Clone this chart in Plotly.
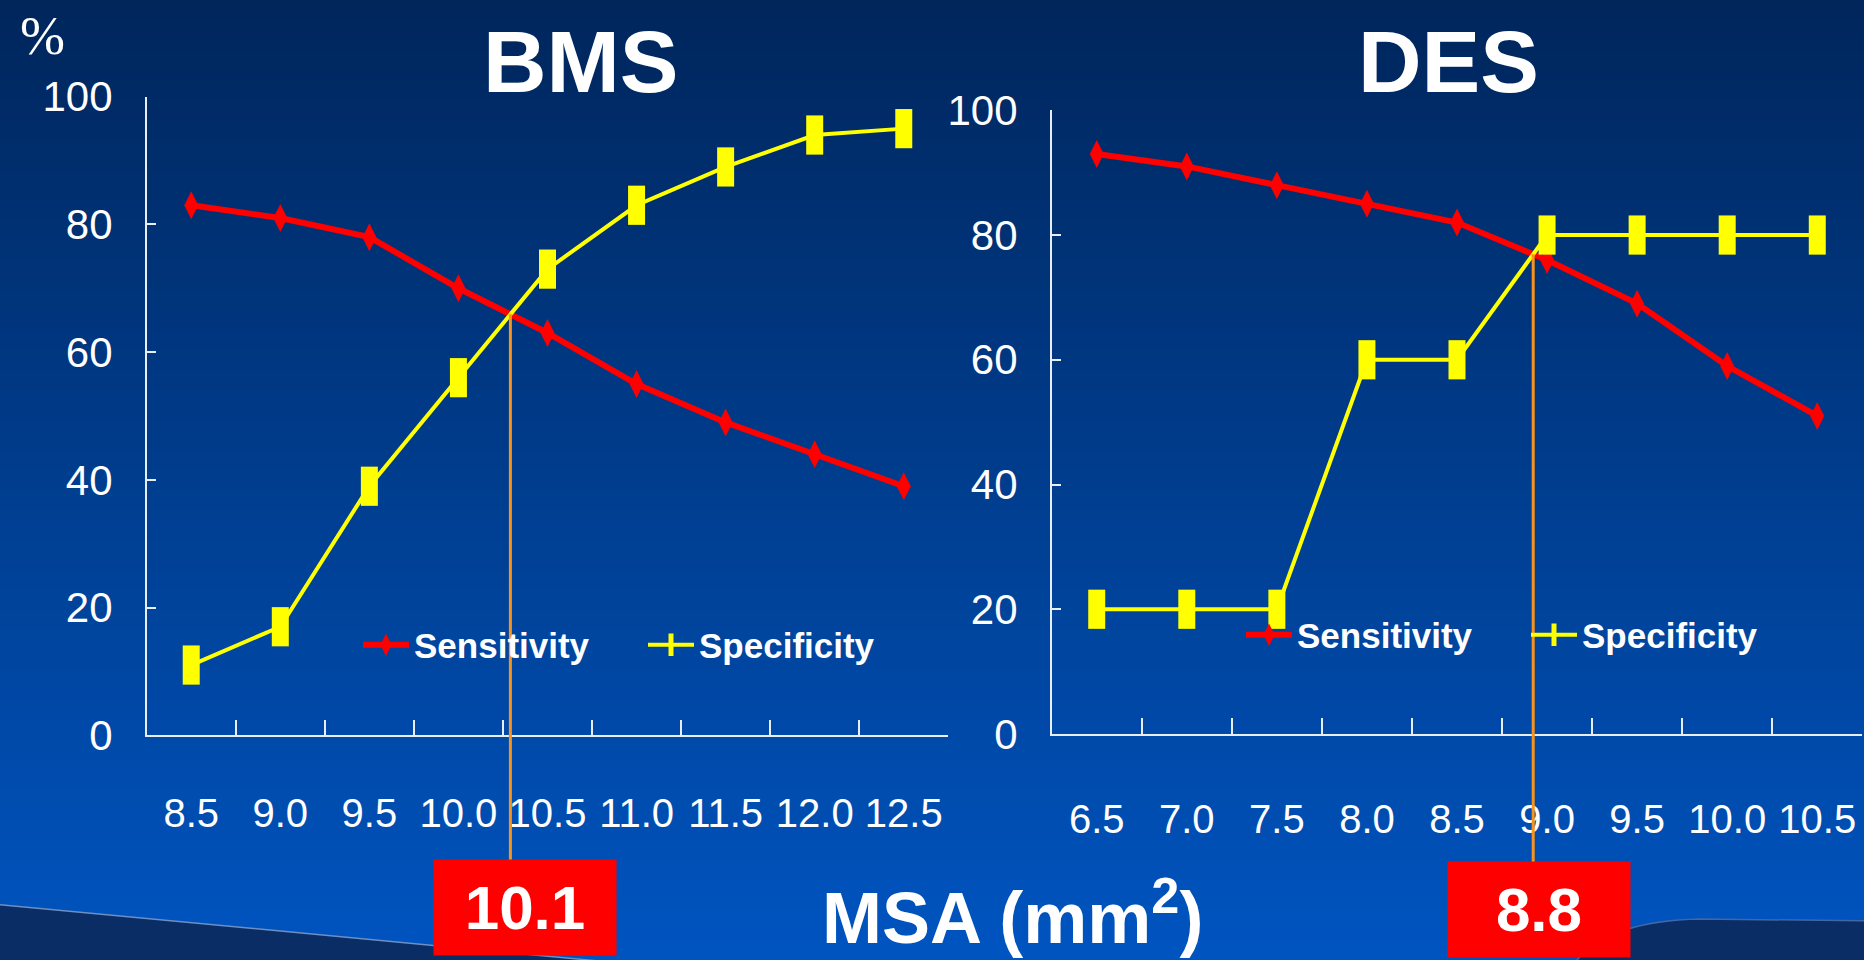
import plotly.graph_objects as go

# ---------------- data ----------------
BMS_MSA = ["8.5", "9.0", "9.5", "10.0", "10.5", "11.0", "11.5", "12.0", "12.5"]
BMS_SENS = [83, 81, 78, 70, 63, 55, 49, 44, 39]
BMS_SPEC = [11, 17, 39, 56, 73, 83, 89, 94, 95]

DES_MSA = ["6.5", "7.0", "7.5", "8.0", "8.5", "9.0", "9.5", "10.0", "10.5"]
DES_SENS = [93, 91, 88, 85, 82, 76, 69, 59, 51]
DES_SPEC = [20, 20, 20, 60, 60, 80, 80, 80, 80]

PANEL_TITLES = ["BMS", "DES"]
CUTOFF_LABELS = ["10.1", "8.8"]
Y_TICKS = [0, 20, 40, 60, 80, 100]
AXIS_TITLE = "MSA (mm<sup>2</sup>)"

W, H = 1864, 960
NARROW = "Liberation Sans Narrow, Arial Narrow, Liberation Sans, Arial, sans-serif"
SANS = "Liberation Sans, Arial, Helvetica, sans-serif"
RED = "#ff0000"
YEL = "#ffff00"
ORANGE = "#f7941d"
AXC = "#e8eef8"


def crossing(a, b):
    for i in range(len(a) - 1):
        d0 = a[i] - b[i]
        d1 = a[i + 1] - b[i + 1]
        if d0 == 0:
            return i, a[i]
        if d0 * d1 < 0:
            t = d0 / (d0 - d1)
            return i + t, a[i] + t * (a[i + 1] - a[i])
    return None, None


fig = go.Figure()

# ---------------- background gradient ----------------
top = (0, 38, 92)
bot = (0, 84, 192)
N = 96
shapes = []
for k in range(N):
    f = k / (N - 1)
    c = tuple(int(round(top[j] + (bot[j] - top[j]) * f)) for j in range(3))
    shapes.append(dict(type="rect", xref="paper", yref="paper", x0=-0.01, x1=1.01,
                       y0=1 - (k + 1) / N - 0.002, y1=1 - k / N + (0.01 if k == 0 else 0),
                       fillcolor="rgb(%d,%d,%d)" % c, line_width=0, layer="below"))
# bottom swooshes
shapes.append(dict(type="path", xref="paper", yref="paper", layer="below",
                   path="M -0.01,%.4f L %.4f,-0.01 L -0.01,-0.01 Z" % (1 - 903 / H, 690 / W),
                   fillcolor="#0b2d66", line=dict(color="#6d8fc4", width=1.5)))
shapes.append(dict(type="path", xref="paper", yref="paper", layer="below",
                   path="M %.4f,-0.01 Q %.4f,%.4f %.4f,%.4f L 1.01,%.4f L 1.01,-0.01 Z"
                        % (1570 / W, 1600 / W, 1 - 921 / H, 1700 / W, 1 - 919 / H, 1 - 921 / H),
                   fillcolor="#0b2d66", line=dict(color="#3f68a8", width=1.5)))

panels = [
    dict(cats=BMS_MSA, sens=BMS_SENS, spec=BMS_SPEC, xa="x", ya="y",
         xdom=[146.7 / W, 948.3 / W], ydom=[1 - 735.3 / H, 1 - 96.7 / H], standoff=42,
         legend="legend", lx=(363 - 5) / W, ly=1 - 645 / H, xshift=15, boxy=1 - 907.5 / H),
    dict(cats=DES_MSA, sens=DES_SENS, spec=DES_SPEC, xa="x2", ya="y2",
         xdom=[1051.7 / W, 1862.3 / W], ydom=[1 - 734 / H, 1 - 110.3 / H], standoff=49,
         legend="legend2", lx=(1246 - 5) / W, ly=1 - 635 / H, xshift=6, boxy=1 - 909 / H),
]

annotations = []
layout_axes = {}
for i, p in enumerate(panels):
    fig.add_trace(go.Scatter(
        x=p["cats"], y=p["sens"], name="Sensitivity", mode="lines+markers",
        line=dict(color=RED, width=6),
        marker=dict(symbol="diamond-tall", size=20, color=RED),
        xaxis=p["xa"], yaxis=p["ya"], legend=p["legend"], cliponaxis=False))
    fig.add_trace(go.Scatter(
        x=p["cats"], y=p["spec"], name="Specificity", mode="lines+markers",
        line=dict(color=YEL, width=4),
        marker=dict(symbol="line-ns", size=28, color=YEL, line=dict(color=YEL, width=17)),
        xaxis=p["xa"], yaxis=p["ya"], legend=p["legend"], cliponaxis=False))

    sfx = "" if i == 0 else "2"
    layout_axes["xaxis" + sfx] = dict(
        type="category", domain=p["xdom"], anchor="y" + sfx,
        range=[-0.5, len(p["cats"]) - 0.5], tickson="boundaries",
        ticks="inside", ticklen=16, tickwidth=1.5, tickcolor=AXC, tickangle=0,
        showline=True, linecolor=AXC, linewidth=1.5, showgrid=False, zeroline=False,
        tickfont=dict(family=NARROW, size=40, color="white"), ticklabelstandoff=p["standoff"],
        automargin=False, fixedrange=True)
    layout_axes["yaxis" + sfx] = dict(
        domain=p["ydom"], anchor="x" + sfx, range=[0, 100], tickvals=Y_TICKS,
        ticks="inside", ticklen=10, tickwidth=1.5, tickcolor=AXC,
        showline=True, linecolor=AXC, linewidth=1.5, showgrid=False, zeroline=False,
        tickfont=dict(family=NARROW, size=42, color="white"), ticklabelstandoff=24,
        automargin=False, fixedrange=True)
    layout_axes[p["legend"]] = dict(
        orientation="h", x=p["lx"], y=p["ly"], xanchor="left", yanchor="middle",
        bgcolor="rgba(0,0,0,0)", borderwidth=0,
        font=dict(family=NARROW, size=35, color="white", weight="bold"),
        itemwidth=46, entrywidth=224, entrywidthmode="pixels",
        itemclick=False, itemdoubleclick=False)

    # cut-off marker: vertical line from the curves' crossing down to the label box
    xc, yc = crossing(p["sens"], p["spec"])
    y_cross_paper = p["ydom"][0] + (yc / 100.0) * (p["ydom"][1] - p["ydom"][0])
    shapes.append(dict(type="line", xref=p["xa"], yref="paper", x0=xc, x1=xc,
                       y0=p["boxy"], y1=y_cross_paper, layer="above",
                       line=dict(color=ORANGE, width=3)))
    annotations.append(dict(
        xref=p["xa"], yref="paper", x=xc, y=p["boxy"], xshift=p["xshift"],
        xanchor="center", yanchor="middle", showarrow=False,
        text=CUTOFF_LABELS[i], bgcolor=RED, width=182, height=95, borderpad=0,
        font=dict(family=SANS, size=62, color="white", weight="bold")))
    annotations.append(dict(
        xref="paper", yref="paper", x=[581 / W, 1448 / W][i], y=1 - 62 / H,
        xanchor="center", yanchor="middle", showarrow=False, text=PANEL_TITLES[i],
        font=dict(family=SANS, size=88, color="white", weight="bold")))

annotations.append(dict(
    xref="paper", yref="paper", x=1012 / W, y=1 - 912 / H, xanchor="center", yanchor="middle",
    showarrow=False, text=AXIS_TITLE,
    font=dict(family=SANS, size=72, color="white", weight="bold")))
annotations.append(dict(
    xref="paper", yref="paper", x=42 / W, y=1 - 36 / H, xanchor="center", yanchor="middle",
    showarrow=False, text="%",
    font=dict(family="Liberation Serif, Times New Roman, serif", size=54, color="white")))

fig.update_layout(
    template="none",
    width=W, height=H, autosize=False,
    margin=dict(l=0, r=0, t=0, b=0, pad=0, autoexpand=False),
    paper_bgcolor="rgb(0,84,192)", plot_bgcolor="rgba(0,0,0,0)",
    shapes=shapes, annotations=annotations, showlegend=True,
    **layout_axes)

fig.write_html("out.html", config={"displayModeBar": False},
               post_script="document.body.style.margin='0';document.body.style.overflow='hidden';")
